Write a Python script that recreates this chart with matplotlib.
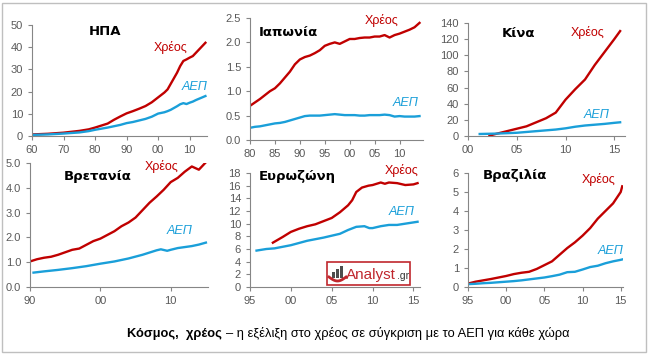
import numpy as np
import matplotlib.pyplot as plt
from matplotlib.patches import Rectangle

plt.rcParams['font.family'] = ['Liberation Sans', 'DejaVu Sans']

RED = '#C00000'
BLUE = '#1A9FD9'
GREY = '#595959'

# --- data ---
us_years = [1960, 1965, 1970, 1975, 1978, 1980, 1982, 1984, 1986, 1988, 1990, 1992, 1994, 1996,
            1998, 2000, 2002, 2003, 2004, 2005, 2006, 2007, 2008, 2009, 2010, 2011, 2012, 2013, 2014, 2015]
us_debt = [0.7, 1.0, 1.5, 2.3, 3.0, 3.8, 4.7, 5.6, 7.3, 8.8, 10.2, 11.2, 12.3, 13.5,
           15.2, 17.4, 19.6, 21.0, 23.5, 26.0, 28.5, 31.5, 33.8, 34.5, 35.3, 36.0, 37.5, 39.0, 40.5, 42.0]
us_gdp = [0.5, 0.7, 1.1, 1.6, 2.2, 2.8, 3.3, 3.8, 4.4, 5.0, 5.8, 6.3, 7.0, 7.7,
          8.7, 10.1, 10.7, 11.2, 11.8, 12.6, 13.4, 14.3, 14.8, 14.4, 15.0, 15.5, 16.2, 16.8, 17.4, 18.0]

jp_years = list(range(1980, 2015))
jp_debt = [0.70, 0.77, 0.84, 0.92, 1.00, 1.06, 1.16, 1.28, 1.40, 1.55, 1.65, 1.70, 1.73, 1.78, 1.84,
           1.93, 1.97, 2.00, 1.97, 2.02, 2.07, 2.07, 2.09, 2.10, 2.10, 2.12, 2.12, 2.15, 2.10, 2.15,
           2.18, 2.22, 2.26, 2.31, 2.40]
jp_gdp = [0.25, 0.27, 0.28, 0.30, 0.32, 0.34, 0.35, 0.37, 0.40, 0.43, 0.46, 0.49, 0.50, 0.50, 0.50,
          0.51, 0.52, 0.53, 0.52, 0.51, 0.51, 0.51, 0.50, 0.50, 0.51, 0.51, 0.51, 0.52, 0.51, 0.48,
          0.49, 0.48, 0.48, 0.48, 0.49]

cn_debt_years = [2002.2, 2003, 2004, 2005, 2006, 2007, 2008, 2009, 2010, 2011, 2012, 2013, 2014, 2015, 2015.6]
cn_debt = [0.5, 3, 6, 9, 12, 17, 22, 29, 45, 58, 70, 88, 104, 120, 130]
cn_gdp_years = [2001.2, 2003, 2005, 2007, 2009, 2010, 2011, 2012, 2013, 2014, 2015, 2015.6]
cn_gdp = [2.5, 3.0, 4.0, 6.0, 8.0, 9.5, 11.5, 13.0, 14.0, 15.0, 16.3, 17.0]

uk_debt_years = list(range(1990, 2015)) + [2014.9]
uk_debt = [1.03, 1.12, 1.18, 1.22, 1.30, 1.40, 1.50, 1.55, 1.70, 1.85, 1.95, 2.10, 2.25, 2.45, 2.60,
           2.80, 3.10, 3.40, 3.65, 3.92, 4.23, 4.40, 4.65, 4.86, 4.73, 5.00]
uk_gdp_years = [1990.5, 1992, 1994, 1996, 1998, 2000, 2002, 2004, 2006, 2008, 2008.6, 2009.5, 2010,
                2011, 2012, 2013, 2014, 2015]
uk_gdp = [0.58, 0.63, 0.69, 0.76, 0.84, 0.94, 1.03, 1.15, 1.30, 1.48, 1.52, 1.46, 1.50,
          1.57, 1.61, 1.65, 1.71, 1.79]

ez_debt_years = [1997.8, 1999, 2000, 2001, 2002, 2003, 2004, 2005, 2006, 2007, 2007.5, 2008, 2008.7,
                 2009.5, 2010, 2011, 2011.5, 2012, 2013, 2014, 2015, 2015.5]
ez_debt = [7.0, 7.9, 8.7, 9.2, 9.6, 9.9, 10.4, 10.9, 11.8, 12.9, 13.7, 15.0, 15.7,
           16.0, 16.1, 16.5, 16.3, 16.5, 16.4, 16.1, 16.2, 16.4]
ez_gdp_years = [1995.8, 1997, 1998, 2000, 2002, 2004, 2005, 2006, 2007, 2008, 2009, 2009.6, 2010,
                2011, 2012, 2013, 2014, 2015.5]
ez_gdp = [5.75, 6.0, 6.1, 6.6, 7.3, 7.8, 8.1, 8.4, 9.0, 9.5, 9.6, 9.3, 9.3,
          9.6, 9.8, 9.8, 10.0, 10.3]

br_years = list(range(1995, 2016)) + [2015.2]
br_debt = [0.18, 0.28, 0.35, 0.42, 0.50, 0.58, 0.68, 0.75, 0.80, 0.95, 1.15, 1.35, 1.70, 2.05, 2.35,
           2.70, 3.10, 3.60, 4.00, 4.40, 5.00, 5.30]
br_gdp = [0.15, 0.17, 0.20, 0.22, 0.25, 0.28, 0.31, 0.35, 0.40, 0.45, 0.50, 0.57, 0.65, 0.78, 0.80,
          0.92, 1.05, 1.12, 1.25, 1.35, 1.43, 1.45]

W, H = 649, 358
fig = plt.figure(figsize=(W / 100, H / 100), dpi=100)
fig.patches.append(Rectangle((2 / W, 6 / H), (W - 5) / W, (H - 9) / H, transform=fig.transFigure,
                             fill=False, edgecolor='#BFBFBF', lw=1))


def make_ax(left, top, right, bottom):
    ax = fig.add_axes([left / W, 1 - bottom / H, (right - left) / W, (bottom - top) / H])
    for s in ['top', 'right']:
        ax.spines[s].set_visible(False)
    for s in ['left', 'bottom']:
        ax.spines[s].set_color('#868686')
        ax.spines[s].set_linewidth(0.8)
    ax.tick_params(colors='#868686', labelcolor=GREY, labelsize=8, length=3, width=0.8)
    return ax


def yr_labels(ticks):
    return ['%02d' % (int(t) % 100) for t in ticks]


def finish(ax, title, tx, ty, dx, dy, gx, gy):
    ax.text(tx, ty, title, transform=ax.transAxes, fontsize=9.5, fontweight='bold',
            family=['DejaVu Sans'], ha='center', va='center')
    ax.text(dx, dy, 'Χρέος', transform=ax.transAxes, fontsize=9, color=RED, ha='center', va='center')
    ax.text(gx, gy, 'ΑΕΠ', transform=ax.transAxes, fontsize=9, color=BLUE, style='italic',
            ha='center', va='center')


# USA
ax = make_ax(32, 25, 207, 136)
ax.plot(us_years, us_debt, color=RED, lw=1.7)
ax.plot(us_years, us_gdp, color=BLUE, lw=1.7)
ax.set_xlim(1960, 2015.5)
ax.set_ylim(0, 50)
ax.set_yticks(range(0, 51, 10))
xt = [1960, 1970, 1980, 1990, 2000, 2010]
ax.set_xticks(xt, yr_labels(xt))
finish(ax, 'ΗΠΑ', 0.42, 0.94, 0.79, 0.80, 0.93, 0.44)

# Japan
ax = make_ax(250, 18, 423, 140)
ax.plot(jp_years, jp_debt, color=RED, lw=1.7)
ax.plot(jp_years, jp_gdp, color=BLUE, lw=1.7)
ax.set_xlim(1980, 2014.7)
ax.set_ylim(0, 2.5)
ax.set_yticks(np.arange(0, 2.51, 0.5))
ax.set_yticklabels(['%.1f' % v for v in np.arange(0, 2.51, 0.5)])
xt = list(range(1980, 2011, 5))
ax.set_xticks(xt, yr_labels(xt))
finish(ax, 'Ιαπωνία', 0.22, 0.885, 0.76, 0.98, 0.90, 0.30)

# China
ax = make_ax(468, 23, 625, 136)
ax.plot(cn_debt_years, cn_debt, color=RED, lw=1.7)
ax.plot(cn_gdp_years, cn_gdp, color=BLUE, lw=1.7)
ax.set_xlim(2000, 2016.1)
ax.set_ylim(0, 140)
ax.set_yticks(range(0, 141, 20))
xt = [2000, 2005, 2010, 2015]
ax.set_xticks(xt, yr_labels(xt))
finish(ax, 'Κίνα', 0.32, 0.91, 0.76, 0.92, 0.82, 0.19)

# UK
ax = make_ax(30, 163, 208, 287)
ax.plot(uk_debt_years, uk_debt, color=RED, lw=1.7)
ax.plot(uk_gdp_years, uk_gdp, color=BLUE, lw=1.7)
ax.set_xlim(1990, 2015.3)
ax.set_ylim(0, 5)
ax.set_yticks(range(0, 6))
ax.set_yticklabels(['%.1f' % v for v in range(0, 6)])
xt = [1990, 2000, 2010]
ax.set_xticks(xt, yr_labels(xt))
finish(ax, 'Βρετανία', 0.38, 0.895, 0.74, 0.97, 0.84, 0.45)

# Eurozone
ax = make_ax(250, 173, 420, 287)
ax.plot(ez_debt_years, ez_debt, color=RED, lw=1.7)
ax.plot(ez_gdp_years, ez_gdp, color=BLUE, lw=1.7)
ax.set_xlim(1995, 2015.8)
ax.set_ylim(0, 18)
ax.set_yticks(range(0, 19, 2))
xt = [1995, 2000, 2005, 2010, 2015]
ax.set_xticks(xt, yr_labels(xt))
finish(ax, 'Ευρωζώνη', 0.28, 0.97, 0.89, 1.02, 0.89, 0.66)

# Analyst.gr logo box
fig.patches.append(Rectangle((327 / W, 1 - 285 / H), 83 / W, 23 / H, transform=fig.transFigure,
                             fc='white', ec='#C0272D', lw=1.2, zorder=5))
for i, hgt in enumerate([6, 9, 12]):
    fig.patches.append(Rectangle(((332 + i * 4) / W, 1 - 278 / H), 3 / W, hgt / H,
                                 transform=fig.transFigure, fc='#4D4D4D', ec='none', zorder=6))
swx = np.linspace(329, 346, 20)
swy = 277 + 4 * np.sin((swx - 329) / 17 * np.pi)
fig.add_artist(plt.Line2D(swx / W, 1 - swy / H, color='#C0272D', lw=2, zorder=7))
fig.text(346 / W, 1 - 279 / H, 'Analyst', fontsize=11, color='#C0272D', ha='left', va='baseline',
         zorder=8)
fig.text(397 / W, 1 - 279 / H, '.gr', fontsize=7.5, color='#333333', ha='left', va='baseline', zorder=8)

# Brazil
ax = make_ax(468, 173, 623, 287)
ax.plot(br_years, br_debt, color=RED, lw=1.7)
ax.plot(br_years, br_gdp, color=BLUE, lw=1.7)
ax.set_xlim(1995, 2015.3)
ax.set_ylim(0, 6)
ax.set_yticks(range(0, 7))
xt = [1995, 2000, 2005, 2010, 2015]
ax.set_xticks(xt, yr_labels(xt))
finish(ax, 'Βραζιλία', 0.30, 0.98, 0.84, 0.94, 0.92, 0.32)

fig.text(222 / W, 1 - 334 / H, 'Κόσμος,  χρέος', fontsize=9.3, fontweight='bold', ha='right', va='center')
fig.text(226 / W, 1 - 334 / H, '– η εξέλιξη στο χρέος σε σύγκριση με το ΑΕΠ για κάθε χώρα',
         fontsize=9.3, ha='left', va='center')

fig.savefig('out.png', dpi=100)
